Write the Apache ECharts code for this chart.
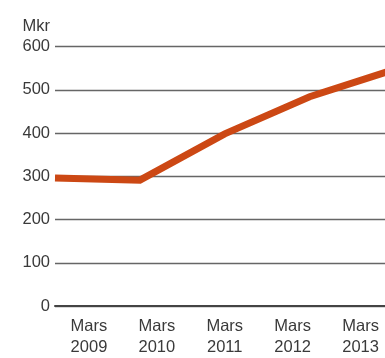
<!DOCTYPE html>
<html>
<head>
<meta charset="utf-8">
<script src="https://cdn.jsdelivr.net/npm/echarts@6/dist/echarts.min.js"></script>
<style>html,body{margin:0;padding:0;background:#fff;overflow:hidden}#c{width:385px;height:358px}</style>
</head>
<body>
<div id="c"></div>
<script>
var categories = ['Mars\n2009', 'Mars\n2010', 'Mars\n2011', 'Mars\n2012', 'Mars\n2013'];
var pointIndex = [0, 1, 2, 3, 4];
var values = [296, 291, 398, 484, 547];
var yTicks = [0, 100, 200, 300, 400, 500, 600];

var chart = echarts.init(document.getElementById('c'), null, {renderer: 'canvas'});
var font = '"Liberation Sans", Arial, sans-serif';
var visibleYears = 4.86; // portion of the 5 year bands visible in the frame
chart.setOption({
  animation: false,
  grid: {left: 55, right: 0, top: 46.5, bottom: 48},
  xAxis: [{
    type: 'value',
    min: 0, max: visibleYears, interval: 0.5,
    splitLine: {show: false},
    axisLine: {show: true, onZero: false, lineStyle: {color: '#444', width: 2}},
    axisTick: {show: false},
    axisLabel: {
      color: '#3a3a3a', fontSize: 16.5, fontFamily: font, lineHeight: 21, margin: 10,
      showMaxLabel: false, showMinLabel: true,
      formatter: function (v) {
        var k = Math.round(v * 2);
        return (k % 2 === 1) ? categories[(k - 1) / 2] : '';
      }
    }
  }, {
    type: 'value',
    min: 0, max: (pointIndex.length - 1) * visibleYears / 5,
    show: false
  }],
  yAxis: {
    type: 'value',
    min: yTicks[0], max: yTicks[yTicks.length - 1], interval: 100,
    name: 'Mkr',
    nameLocation: 'end',
    nameGap: 12,
    nameTextStyle: {color: '#3a3a3a', fontSize: 16.5, fontFamily: font, align: 'right', padding: [0, 5, 0, 0]},
    axisLine: {show: false},
    axisTick: {show: false},
    axisLabel: {color: '#3a3a3a', fontSize: 16.5, fontFamily: font, margin: 5},
    splitLine: {lineStyle: {color: '#666', width: 1.3}}
  },
  series: [{
    type: 'line',
    xAxisIndex: 1,
    data: pointIndex.map(function (x, i) { return [x, values[i]]; }),
    symbol: 'none',
    lineStyle: {color: '#cc4814', width: 7, join: 'miter'}
  }]
});
</script>
</body>
</html>
